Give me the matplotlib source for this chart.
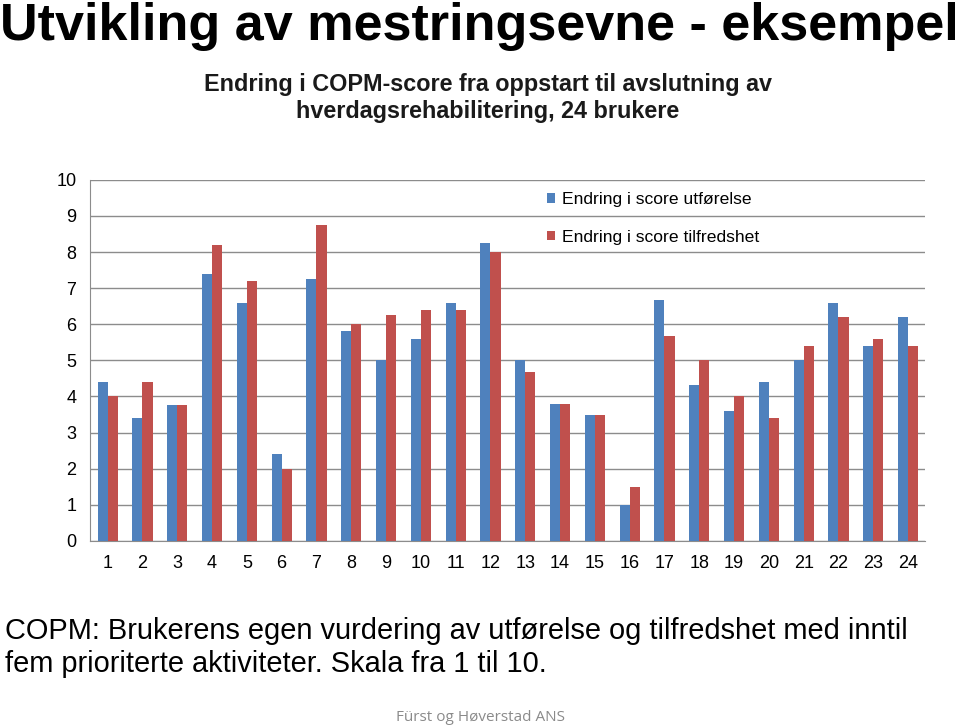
import numpy as np
import matplotlib.pyplot as plt

plt.rcParams['font.family'] = ['Liberation Sans', 'DejaVu Sans']

brukere = [str(i) for i in range(1, 25)]
utforelse = [4.4, 3.4, 3.75, 7.4, 6.6, 2.4, 7.25, 5.8, 5.0, 5.6, 6.6, 8.25,
             5.0, 3.8, 3.5, 1.0, 6.67, 4.33, 3.6, 4.4, 5.0, 6.6, 5.4, 6.2]
tilfredshet = [4.0, 4.4, 3.75, 8.2, 7.2, 2.0, 8.75, 6.0, 6.25, 6.4, 6.4, 8.0,
               4.67, 3.8, 3.5, 1.5, 5.67, 5.0, 4.0, 3.4, 5.4, 6.2, 5.6, 5.4]
yticks = list(range(0, 11))

fig = plt.figure(figsize=(9.6, 7.28), dpi=100)
ax = fig.add_axes([0.094, 0.257, 0.870, 0.496])

x = np.arange(len(brukere))
w = 0.29
ax.bar(x - w / 2, utforelse, w, color='#4F81BD', label='Endring i score utførelse', zorder=3)
ax.bar(x + w / 2, tilfredshet, w, color='#C0504D', label='Endring i score tilfredshet', zorder=3)

ax.set_xlim(-0.5, len(brukere) - 0.5)
ax.set_ylim(0, 10)
ax.set_yticks(yticks)
ax.set_xticks(x)
ax.set_xticklabels(brukere)
ax.tick_params(axis='both', length=0, labelsize=13, colors='black')
ax.tick_params(axis='y', pad=10)
ax.tick_params(axis='x', pad=10)
ax.yaxis.grid(True, color='#8c8c8c', lw=1, zorder=0)
for s in ['top', 'right']:
    ax.spines[s].set_visible(False)
ax.spines['left'].set_color('#8c8c8c')
ax.spines['bottom'].set_color('#8c8c8c')

leg = ax.legend(loc='upper left', bbox_to_anchor=(0.528, 1.0095), frameon=False,
                fontsize=12.6, handlelength=0.45, handleheight=0.45,
                handletextpad=0.4, labelspacing=1.28)

fig.text(0.0, 0.945, 'Utvikling av mestringsevne - eksempel', fontsize=37.5,
         fontweight='bold', va='baseline', ha='left')
fig.text(0.508, 0.884, 'Endring i COPM-score fra oppstart til avslutning av',
         fontsize=16.8, fontweight='bold', ha='center', va='center', color='#1a1a1a')
fig.text(0.508, 0.847, 'hverdagsrehabilitering, 24 brukere',
         fontsize=16.8, fontweight='bold', ha='center', va='center', color='#1a1a1a')
fig.text(0.005, 0.133, 'COPM: Brukerens egen vurdering av utførelse og tilfredshet med inntil',
         fontsize=20.9, ha='left', va='center')
fig.text(0.005, 0.088, 'fem prioriterte aktiviteter. Skala fra 1 til 10.',
         fontsize=20.9, ha='left', va='center')
fig.text(0.5, 0.015, 'Fürst og Høverstad ANS', fontsize=11, color='#8a8a8a',
         ha='center', va='center', family=['Open Sans', 'DejaVu Sans'])

fig.savefig('out.png', dpi=100)
